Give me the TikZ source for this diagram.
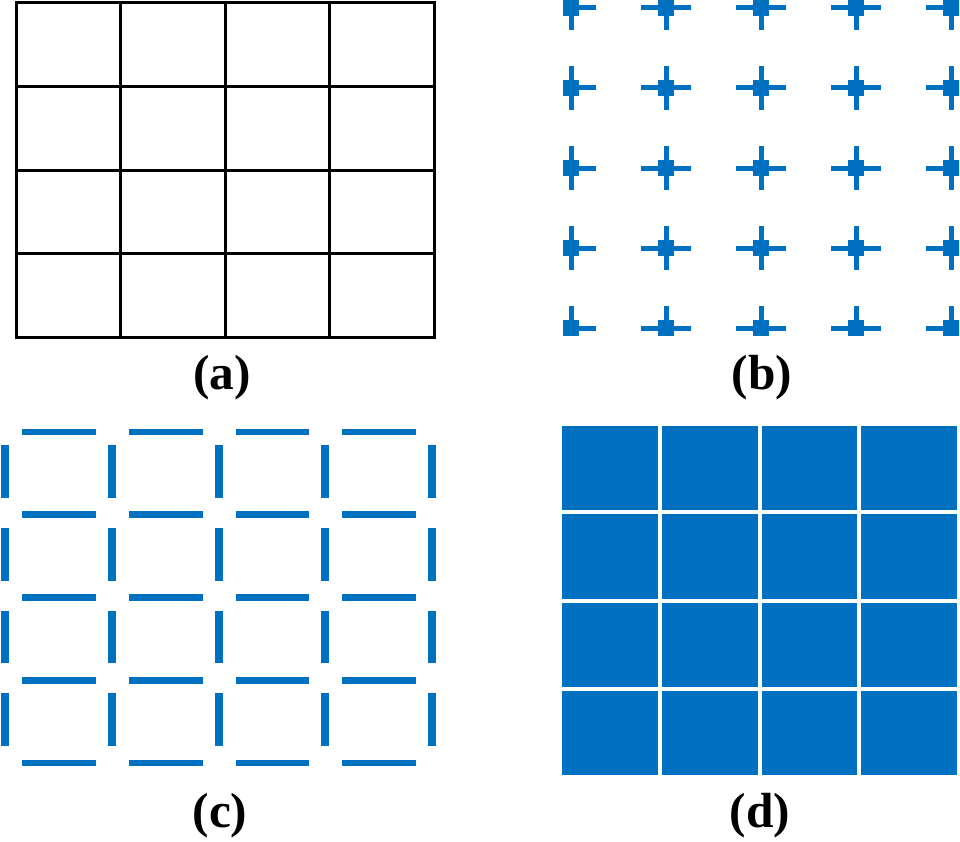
\documentclass[tikz,border=0pt]{standalone}
\usepackage{fontspec}
\setmainfont{Liberation Serif}
\definecolor{cellblue}{RGB}{0,112,192}

\begin{document}
\begin{tikzpicture}[x=0.75pt,y=-0.75pt,
  gridline/.style={draw=black,line width=2.25pt,line cap=rect},
  arm/.style={draw=cellblue,line width=3.75pt},
  hbar/.style={draw=cellblue,line width=4.9pt},
  vbar/.style={draw=cellblue,line width=6pt},
  cell/.style={fill=cellblue},
  tag/.style={font=\bfseries\fontsize{37}{44}\selectfont}]

\useasboundingbox (0,0) rectangle (960,842);

% (a) full grid
\foreach \i in {0,...,4} {
  \draw[gridline] (16+104.5*\i,3) -- (16+104.5*\i,337);
  \draw[gridline] (16,3+83.5*\i) -- (434,3+83.5*\i);
}

% (b) crossings only
\foreach \i in {0,...,4} {
  \foreach \j in {0,...,4} {
    \pgfmathsetmacro\cx{571+95*\i}
    \pgfmathsetmacro\cy{8+80*\j}
    \fill[cell] (\cx-8,\cy-8) rectangle (\cx+8,\cy+8);
    \ifnum\i>0 \draw[arm] (\cx,\cy) -- (\cx-25,\cy); \fi
    \ifnum\i<4 \draw[arm] (\cx,\cy) -- (\cx+25,\cy); \fi
    \ifnum\j>0 \draw[arm] (\cx,\cy) -- (\cx,\cy-22); \fi
    \ifnum\j<4 \draw[arm] (\cx,\cy) -- (\cx,\cy+22); \fi
  }
}

% (c) edges only
\foreach \i in {0,...,3} {
  \foreach \j in {0,...,4} {
    \draw[hbar] (5+106.75*\i+17,432+82.75*\j) -- (5+106.75*\i+90.75,432+82.75*\j);
  }
}
\foreach \i in {0,...,4} {
  \foreach \j in {0,...,3} {
    \draw[vbar] (5+106.75*\i,432+82.75*\j+13) -- (5+106.75*\i,432+82.75*\j+65.75);
  }
}

% (d) filled cells
\foreach \i in {0,...,3} {
  \foreach \j in {0,...,3} {
    \fill[cell] (562+99.75*\i,426+88.25*\j) rectangle ++(95.75,84.25);
  }
}

\node[tag] (lbla) at (222,378) {(a)};
\node[tag] (lblb) at (762,378) {(b)};
\node[tag] (lblc) at (220,816) {(c)};
\node[tag] (lbld) at (760,816) {(d)};

\end{tikzpicture}
\end{document}
